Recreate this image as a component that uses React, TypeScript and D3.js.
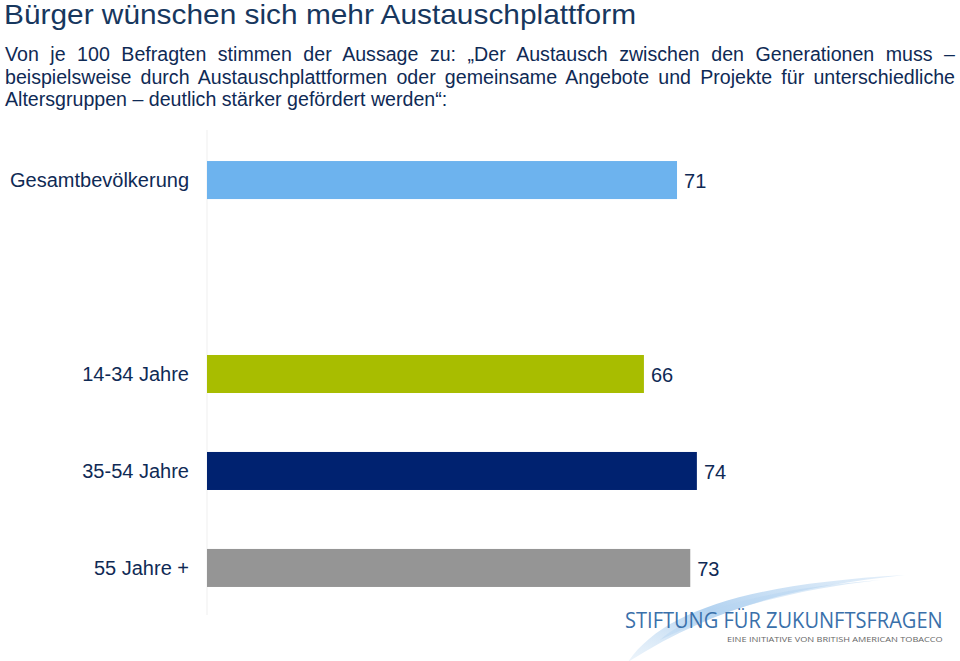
import React, { useEffect, useRef } from "react";
import * as d3 from "d3";

const categories = ["Gesamtbevölkerung", "", "14-34 Jahre", "35-54 Jahre", "55 Jahre +"];
const values = [71, null, 66, 74, 73];
const colors = ["#6db3ee", "none", "#a8bd00", "#002270", "#959595"];
const titleText = "Bürger wünschen sich mehr Austauschplattform";
const subtitleLines = [
  "Von je 100 Befragten stimmen der Aussage zu: \u201EDer Austausch zwischen den Generationen muss \u2013",
  "beispielsweise durch Austauschplattformen oder gemeinsame Angebote und Projekte für unterschiedliche",
  "Altersgruppen \u2013 deutlich stärker gefördert werden\u201C:",
];
const justified = [true, true, false];
const logoMain = "STIFTUNG FÜR ZUKUNFTSFRAGEN";
const logoSub = "EINE INITIATIVE VON BRITISH AMERICAN TOBACCO";

const W = 960;
const H = 661;
const textColor = "#0f2a55";
const titleColor = "#17375e";
const font = "'Liberation Sans', Arial, sans-serif";

export default function App() {
  const subRef = useRef<SVGGElement>(null);
  const logoRef = useRef<SVGTextElement>(null);
  const logoSubRef = useRef<SVGTextElement>(null);

  const x = d3.scaleLinear().domain([0, 100]).range([207, 869]);
  const keys = categories.map((c, i) => c || `gap${i}`);
  const y = d3
    .scaleBand<string>()
    .domain(keys)
    .range([130, 618])
    .paddingInner(0.608)
    .paddingOuter(0.32);

  useEffect(() => {
    if (subRef.current) {
      d3.select(subRef.current)
        .selectAll<SVGTextElement, unknown>("text")
        .each(function (_, i) {
          if (!justified[i]) return;
          const el = this as SVGTextElement;
          el.setAttribute("word-spacing", "0");
          const w = el.getComputedTextLength();
          const spaces = (subtitleLines[i].match(/ /g) || []).length;
          const extra = (955 - 5 - w) / spaces;
          el.setAttribute("word-spacing", String(extra));
        });
    }
    const fit = (el: SVGTextElement | null, x0: number, y0: number, target: number) => {
      if (!el) return;
      const w = el.getComputedTextLength();
      const s = w > 0 ? target / w : 1;
      el.setAttribute("transform", `translate(${x0},${y0}) scale(${s},1)`);
    };
    fit(logoRef.current, 625, 628, 318);
    fit(logoSubRef.current, 727, 642, 216);
  }, []);

  return (
    <svg
      width={W}
      height={H}
      style={{ position: "absolute", left: 0, top: 0, background: "#fff" }}
      fontFamily={font}
    >
      <defs>
        <linearGradient id="sw" x1="0" y1="1" x2="1" y2="0">
          <stop offset="0" stopColor="#dbeaf7" stopOpacity={0.5} />
          <stop offset="0.45" stopColor="#a6cbee" stopOpacity={0.85} />
          <stop offset="1" stopColor="#d3e5f6" stopOpacity={0.6} />
        </linearGradient>
      </defs>
      <rect width={W} height={H} fill="#fff" />
      <text x={4} y={24} fontSize={28} fill={titleColor} textLength={632} lengthAdjust="spacingAndGlyphs">
        {titleText}
      </text>
      <g ref={subRef}>
        {subtitleLines.map((l, i) => (
          <text key={i} x={5} y={61 + i * 22.7} fontSize={19.6} fill={textColor} style={{ whiteSpace: "pre" }}>
            {l}
          </text>
        ))}
      </g>

      {/* swoosh */}
      <path
        d="M628 662 C 662 612, 745 584, 905 575 C 800 586, 715 606, 628 662 Z"
        fill="url(#sw)"
      />
      <path
        d="M660 640 C 700 605, 780 588, 880 580 C 790 590, 720 610, 660 640 Z"
        fill="#b8d6f1"
        opacity={0.5}
      />

      <line x1={x(0)} x2={x(0)} y1={130} y2={615} stroke="#efefef" strokeWidth={1} />

      {categories.map((c, i) => {
        const v = values[i];
        if (v == null) return null;
        const yy = y(keys[i])!;
        const bw = y.bandwidth();
        return (
          <g key={keys[i]}>
            <rect x={x(0)} y={yy} width={x(v) - x(0)} height={bw} fill={colors[i]} />
            <text x={189} y={yy + bw / 2 + 7} fontSize={20} textAnchor="end" fill={textColor}>
              {c}
            </text>
            <text x={x(v) + 7} y={yy + bw / 2 + 8} fontSize={20} fill={textColor}>
              {v}
            </text>
          </g>
        );
      })}

      <text
        ref={logoRef}
        transform="translate(625,628)"
        fontSize={21}
        fill="#3a70aa"
        fontFamily="'Open Sans', sans-serif"
      >
        {logoMain}
      </text>
      <text
        ref={logoSubRef}
        transform="translate(727,642)"
        fontSize={8}
        fill="#666"
        fontFamily="'Open Sans', sans-serif"
      >
        {logoSub}
      </text>
    </svg>
  );
}
